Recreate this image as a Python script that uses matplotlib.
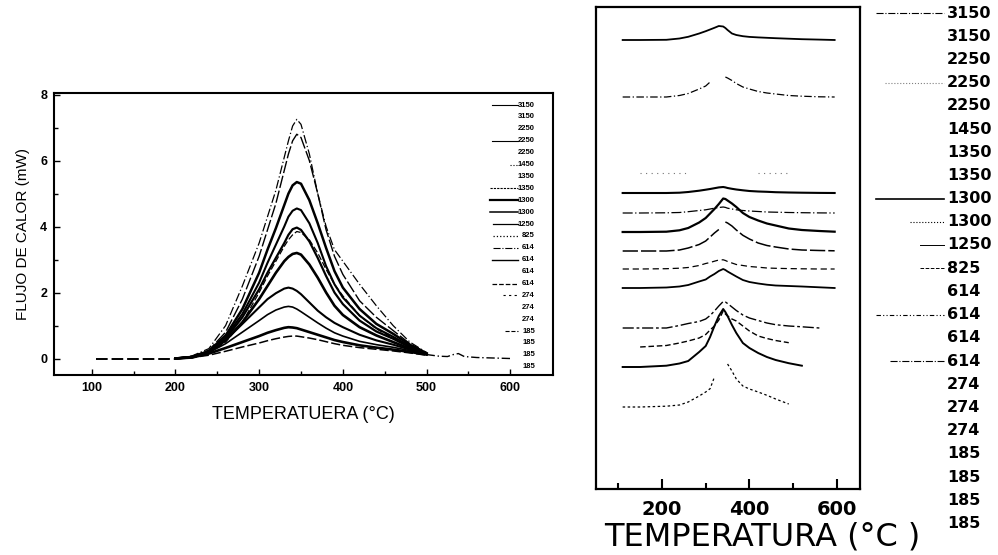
import matplotlib
matplotlib.use('Agg')
import matplotlib.pyplot as plt
from matplotlib.lines import Line2D
import numpy as np

W, H = 998, 555
nan = np.nan

# ===== Left panel: DSC heat-flow curves (mW) =====
temp_l = [200, 220, 240, 260, 280, 300, 310, 320, 330, 335, 340, 345, 350,
          360, 370, 380, 390, 400, 420, 440, 460, 480, 500]
flux_a = [0, 0.08, 0.3, 1.0, 2.2, 3.5, 4.3, 5.1, 6.1, 6.6, 7.05, 7.25, 7.1,
          6.2, 5.0, 4.0, 3.3, 2.95, 2.25, 1.6, 1.0, 0.5, 0.18]
flux_b = [0, 0.06, 0.25, 0.8, 1.8, 3.1, 3.9, 4.7, 5.7, 6.2, 6.6, 6.8, 6.7,
          6.0, 5.0, 3.9, 3.1, 2.55, 1.75, 1.25, 0.85, 0.45, 0.17]
flux_c = [0, 0.05, 0.23, 0.7, 1.5, 2.6, 3.3, 3.95, 4.65, 5.0, 5.25, 5.35, 5.3,
          4.8, 4.1, 3.35, 2.65, 2.15, 1.5, 1.05, 0.75, 0.42, 0.16]
flux_d = [0, 0.05, 0.22, 0.65, 1.35, 2.3, 2.9, 3.45, 4.0, 4.3, 4.48, 4.55, 4.5,
          4.1, 3.5, 2.8, 2.25, 1.85, 1.3, 0.92, 0.66, 0.38, 0.15]
flux_e = [0, 0.05, 0.2, 0.6, 1.25, 2.1, 2.6, 3.05, 3.5, 3.75, 3.92, 3.97, 3.9,
          3.55, 3.05, 2.5, 2.0, 1.65, 1.15, 0.82, 0.6, 0.34, 0.15]
flux_k = [0, 0.05, 0.17, 0.5, 1.1, 2.0, 2.5, 2.95, 3.4, 3.6, 3.75, 3.85, 3.82,
          3.6, 3.2, 2.7, 2.25, 1.9, 1.3, 0.9, 0.62, 0.36, 0.15]
flux_f = [0, 0.04, 0.2, 0.55, 1.1, 1.8, 2.2, 2.6, 2.95, 3.08, 3.17, 3.2, 3.15,
          2.85, 2.45, 2.0, 1.6, 1.32, 0.95, 0.7, 0.5, 0.3, 0.14]
flux_g = [0, 0.04, 0.2, 0.55, 1.05, 1.55, 1.8, 1.98, 2.12, 2.15, 2.12, 2.05, 1.95,
          1.7, 1.45, 1.25, 1.08, 0.95, 0.72, 0.55, 0.42, 0.27, 0.13]
flux_h = [0, 0.04, 0.18, 0.45, 0.8, 1.15, 1.33, 1.47, 1.56, 1.58, 1.56, 1.5, 1.42,
          1.25, 1.08, 0.92, 0.78, 0.68, 0.52, 0.42, 0.34, 0.24, 0.12]
flux_i = [0, 0.03, 0.15, 0.32, 0.5, 0.68, 0.78, 0.86, 0.93, 0.95, 0.94, 0.92, 0.88,
          0.8, 0.72, 0.64, 0.56, 0.5, 0.4, 0.33, 0.27, 0.2, 0.12]
flux_j = [0, 0.03, 0.1, 0.22, 0.35, 0.47, 0.54, 0.6, 0.65, 0.67, 0.68, 0.68, 0.66,
          0.62, 0.57, 0.51, 0.45, 0.4, 0.33, 0.28, 0.23, 0.17, 0.1]

# common baseline before the peak and the tail after 500 C
base_t = [105, 200]
base_v = [0, 0]
tail_t = [500, 515, 525, 532, 538, 545, 560, 600]
tail_v = [0.12, 0.07, 0.06, 0.12, 0.15, 0.06, 0.03, 0.0]

# ===== Right panel: same runs, stacked (heights in px above each baseline) =====
temp_r = [110, 150, 210, 240, 260, 285, 300, 310, 320, 330, 340, 345, 350,
          360, 370, 385, 400, 420, 440, 460, 490, 520, 560, 595]
r1 = [0, 0, 0.2, 1.5, 3.2, 6.5, 8.8, 10.5, 12.2, 14, 13.5, 12, 10,
      6.5, 5, 3.8, 3.1, 2.6, 2.2, 1.8, 1.3, 0.8, 0.4, 0]
r2 = [0, 0, 0, 1.5, 3.5, 8, 11, 15, nan, nan, nan, 20, 19,
      16.5, 13.5, 10, 8, 5.5, 4, 3, 1.5, 0.8, 0.2, 0]
r3 = [nan, 0, 0, 0, 0, nan, nan, nan, nan, nan, nan, nan, nan,
      nan, nan, nan, nan, 0, 0, 0, 0, nan, nan, nan]
r4 = [0, 0, 0, 0.3, 1, 2.3, 3.3, 4, 4.8, 5.6, 6, 5.6, 5,
      4.2, 3.5, 2.7, 2, 1.5, 1.2, 0.8, 0.5, 0.3, 0.1, 0]
r5 = [0, 0, 0.2, 0.5, 1.3, 2.5, 3.2, 4, 4.8, 5.5, 6, 5.6, 4.8,
      4, 3.2, 2.5, 2, 1.5, 1, 0.8, 0.5, 0.3, 0.1, 0]
r6 = [0, 0, 0.3, 1.7, 4, 9.5, 14, 18.5, 23, 28, 33.5, 33, 31.5,
      28.5, 25, 19, 15, 11.5, 8.5, 6.5, 3.5, 2, 1, 0.3]
r7 = [0, 0, 0, 1, 3, 6.5, 10, 14, 18, 21.5, nan, 29, 28,
      25, 21, 15.7, 12, 8, 5.5, 4, 2, 1, 0.5, 0.2]
r8 = [0, 0, 0.3, 0.8, 1.5, 3.5, 5.5, 6.5, 7.8, 9, 9.2, 8.5, 7.5,
      6, 4.5, 3.5, 2.5, 1.8, 1, 0.7, 0.4, 0.2, 0, 0]
r9 = [0, 0, 0.5, 1.5, 3, 6.5, 8.5, 11.5, 14, 17, 19, 18, 16.5,
      14, 11.5, 8, 6, 4.5, 3.3, 2.5, 2, 1.5, 0.7, 0]
r10 = [0, 0, 0, 2.5, 4.5, 6.5, 9, 12.5, 17, 22, 26.5, 26, 24.5,
       21, 17.5, 13, 10, 7.5, 5, 3.3, 2, 1.2, 0, nan]
r11 = [nan, 0, 1.5, 4, 6, 9, 12.5, 17, 21, 27, 36, 33, 31,
       28, 26, 21, 16, 11, 8.5, 6.5, 4.3, nan, nan, nan]
r12 = [0, 0, 1.3, 3.5, 6, 15, 21, 30, 41, 51, 58, 55, 51,
       42, 34, 24, 19, 14, 10, 7, 3.8, 1.3, nan, nan]
r13 = [0, 0, 0.8, 2, 5, 11, 15, 18.3, 30, nan, nan, nan, 43,
       36, 28, 21, 18, 15, 11.7, 8, 3, nan, nan, nan]
offsets_r = [449, 392, 316, 296, 276, 257, 238, 220, 201, 161, 142, 122, 82]

conc_labels = ['3150', '3150', '2250', '2250', '2250', '1450', '1350', '1350',
               '1300', '1300', '1250', '825', '614', '614', '614', '614',
               '274', '274', '274', '185', '185', '185', '185']

fig = plt.figure(figsize=(W / 100, H / 100), dpi=100)

# ---------------- left panel ----------------
ax1 = fig.add_axes([54 / W, 1 - 375 / H, (553 - 54) / W, (375 - 93) / H])

left_curves = [
    (flux_a, (0, (7, 2, 1, 2)), 0.9),
    (flux_b, (0, (9, 2)), 1.0),
    (flux_c, '-', 1.8),
    (flux_d, '-', 1.5),
    (flux_e, '-', 1.6),
    (flux_k, (0, (5, 2)), 0.9),
    (flux_f, '-', 1.9),
    (flux_g, '-', 1.5),
    (flux_h, '-', 1.2),
    (flux_i, '-', 1.9),
    (flux_j, (0, (6, 2)), 1.1),
]
for vals, ls, lw in left_curves:
    ax1.plot(temp_l, vals, color='black', linestyle=ls, linewidth=lw)
ax1.plot(base_t, base_v, color='black', linestyle=(0, (6, 2)), linewidth=1.4)
ax1.plot(tail_t, tail_v, color='black', linestyle=(0, (6, 2, 1, 2)), linewidth=1.0)

ax1.set_xlim(55, 651)
ax1.set_ylim(-0.5, 8.05)
ax1.set_xticks([100, 200, 300, 400, 500, 600])
ax1.set_xticks([150, 250, 350, 450, 550], minor=True)
ax1.set_yticks([0, 2, 4, 6, 8])
ax1.set_yticks([1, 3, 5, 7], minor=True)
ax1.tick_params(which='both', direction='in', top=False, right=False,
                width=1.0, labelsize=9)
ax1.tick_params(which='major', length=4, pad=5)
ax1.tick_params(which='minor', length=3)
for lab in ax1.get_xticklabels() + ax1.get_yticklabels():
    lab.set_fontweight('bold')
    lab.set_family('Liberation Sans')
for sp in ax1.spines.values():
    sp.set_linewidth(1.5)
ax1.set_xlabel('TEMPERATUERA (°C)', fontsize=13, family='Liberation Sans', labelpad=9)
ax1.set_ylabel('FLUJO DE CALOR (mW)', fontsize=11, family='Liberation Sans', labelpad=7)

# ---------------- right panel ----------------
ax2 = fig.add_axes([596 / W, 1 - 489 / H, (860 - 596) / W, (489 - 7) / H])
right_curves = [r1, r2, r3, r4, r5, r6, r7, r8, r9, r10, r11, r12, r13]
right_styles = [
    ('-', 1.3, 'black'),
    ((0, (6, 2, 1, 2)), 0.9, 'black'),
    ((0, (1, 4)), 0.8, '0.45'),
    ('-', 1.5, 'black'),
    ((0, (8, 2, 1, 2)), 0.9, 'black'),
    ('-', 1.6, 'black'),
    ((0, (10, 2)), 1.1, 'black'),
    ((0, (5, 3)), 0.9, 'black'),
    ('-', 1.3, 'black'),
    ((0, (8, 2, 2, 2)), 1.0, 'black'),
    ((0, (4, 2)), 1.0, 'black'),
    ('-', 1.4, 'black'),
    ((0, (2, 2)), 0.9, 'black'),
]
for vals, off, (ls, lw, col) in zip(right_curves, offsets_r, right_styles):
    ax2.plot(temp_r, np.array(vals, dtype=float) + off, color=col,
             linestyle=ls, linewidth=lw)

ax2.set_xlim(49, 653)
ax2.set_ylim(0, 482)
ax2.set_xticks([200, 400, 600])
ax2.set_xticks([100, 300, 500], minor=True)
ax2.set_yticks([])
ax2.tick_params(which='both', direction='in', top=False, width=1.5, labelsize=14)
ax2.tick_params(which='major', length=7, pad=8)
ax2.tick_params(which='minor', length=4)
for lab in ax2.get_xticklabels():
    lab.set_fontweight('bold')
for sp in ax2.spines.values():
    sp.set_linewidth(1.6)
ax2.set_xlabel('TEMPERATURA (°C )', fontsize=23, x=0.63, labelpad=2)

# ---------------- legends (drawn as text + swatches) ----------------
def swatch(x0, x1, y, ls, lw, col='black'):
    fig.add_artist(Line2D([x0 / W, x1 / W], [1 - y / H, 1 - y / H],
                          transform=fig.transFigure, color=col,
                          linestyle=ls, linewidth=lw))

left_swatches = {0: (492, '-', 0.8), 3: (492, '-', 0.8), 5: (510, ':', 0.8),
                 7: (490, (0, (2, 1)), 0.8), 8: (490, '-', 1.6),
                 9: (490, '-', 1.1), 10: (493, '-', 0.9), 11: (493, ':', 0.9),
                 12: (493, '-.', 0.8), 13: (492, '-', 1.0), 15: (492, '--', 0.9),
                 16: (503, (0, (2, 3)), 0.8), 19: (505, '--', 0.8)}
for i, lab in enumerate(conc_labels):
    y = 105 + i * 11.9
    fig.text(535 / W, 1 - y / H, lab, ha='right', va='center', fontsize=5.5,
             fontweight='bold', family='Liberation Sans')
    if i in left_swatches:
        x0, ls, lw = left_swatches[i]
        swatch(x0, 518, y, ls, lw)

right_swatches = {0: (876, '-.', 0.8, 'black'), 3: (885, ':', 0.8, '0.5'),
                  8: (876, '-', 1.2, 'black'), 9: (910, ':', 0.8, 'black'),
                  10: (920, '-', 0.7, 'black'), 11: (920, '--', 0.7, 'black'),
                  13: (876, (0, (4, 2, 1, 2, 1, 2)), 0.8, 'black'),
                  15: (890, '-.', 0.8, 'black')}
for i, lab in enumerate(conc_labels):
    y = 13 + i * 23.2
    fig.text(947 / W, 1 - y / H, lab, ha='left', va='center', fontsize=11.5,
             fontweight='bold')
    if i in right_swatches:
        x0, ls, lw, col = right_swatches[i]
        swatch(x0, 944, y, ls, lw, col)

plt.savefig('out.png', dpi=100)
plt.close()
